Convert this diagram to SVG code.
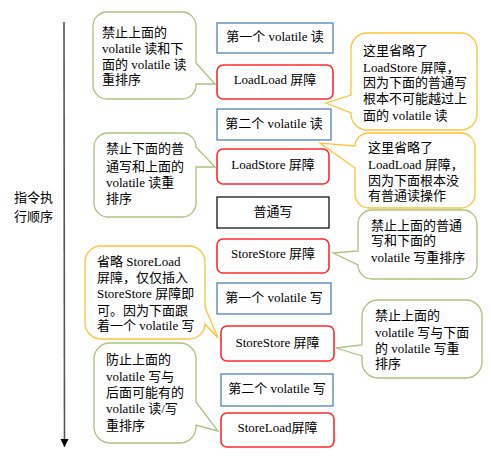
<svg xmlns="http://www.w3.org/2000/svg" width="491" height="465" viewBox="0 0 491 465">
<defs>
<marker id="ah" markerWidth="10" markerHeight="10" refX="8" refY="5" orient="auto" markerUnits="userSpaceOnUse" viewBox="0 0 10 10">
<path d="M0,1 L8,5 L0,9 Z" fill="#000"/>
</marker>
</defs>
<style>
text{font-family:"Liberation Serif","Noto Sans CJK SC",serif;font-size:13px;fill:#000}
.lbl{font-family:"Noto Sans CJK SC","Liberation Sans",sans-serif}
.c{text-anchor:middle}
.blue{fill:#fff;stroke:#4f81bd;stroke-width:1.3}
.red{fill:#fff;stroke:#ff2a2a;stroke-width:1.6}
.blk{fill:#fff;stroke:#000;stroke-width:1.2}
.green{fill:#fff;stroke:#a8c47c;stroke-width:1.3}
.yellow{fill:#fff;stroke:#fdc43a;stroke-width:1.3}
</style>
<rect width="491" height="465" fill="#fff"/>
<g id="connectors">
<line x1="64" y1="22" x2="64.5" y2="447" stroke="#555" stroke-width="1.6" marker-end="url(#ah)"/>
</g>
<g id="order-label">
<text class="lbl" x="14" y="202">指令执</text>
<text class="lbl" x="14" y="221">行顺序</text>
</g>
<g id="n1"><rect class="blue" x="217" y="23" width="116" height="30"/><text class="c" x="275" y="41">第一个 volatile 读</text></g>
<g id="n2"><rect class="red" x="217" y="65" width="116" height="34" rx="6"/><text class="c" x="275" y="84">LoadLoad 屏障</text></g>
<g id="n3"><rect class="blue" x="217" y="109" width="114" height="31"/><text class="c" x="274" y="128">第二个 volatile 读</text></g>
<g id="n4"><rect class="red" x="217" y="149" width="112" height="35" rx="6"/><text class="c" x="273" y="169">LoadStore 屏障</text></g>
<g id="n5"><rect class="blk" x="217" y="197" width="112" height="31"/><text class="c" x="273" y="216">普通写</text></g>
<g id="n6"><rect class="red" x="217" y="239" width="112" height="34" rx="6"/><text class="c" x="273" y="258">StoreStore 屏障</text></g>
<g id="n7"><rect class="blue" x="217" y="283" width="114" height="31"/><text class="c" x="274" y="302">第一个 volatile 写</text></g>
<g id="n8"><rect class="red" x="221" y="326" width="113" height="35" rx="6"/><text class="c" x="277.5" y="346.5">StoreStore 屏障</text></g>
<g id="n9"><rect class="blue" x="221" y="374" width="112" height="32"/><text class="c" x="277" y="392.5">第二个 volatile 写</text></g>
<g id="n10"><rect class="red" x="221" y="413" width="113" height="34" rx="6"/><text class="c" x="277.5" y="431.5">StoreLoad屏障</text></g>

<g id="callout-a">
<path class="green" d="M107,12 H182 A14,14 0 0 1 196,26 V63 L215,84 L196,84 V85 A14,14 0 0 1 182,99 H107 A14,14 0 0 1 93,85 V26 A14,14 0 0 1 107,12 Z"/>
<text x="102" y="37">禁止上面的</text>
<text x="102" y="53">volatile 读和下</text>
<text x="102" y="68.5">面的 volatile 读</text>
<text x="102" y="84">重排序</text>
</g>
<g id="callout-b">
<path class="yellow" d="M367,33 H461 A16,16 0 0 1 477,49 V114 A16,16 0 0 1 461,130 H367 A16,16 0 0 1 351,114 V113 L326,103 L351,95 V49 A16,16 0 0 1 367,33 Z"/>
<text x="363" y="55">这里省略了</text>
<text x="363" y="71.5">LoadStore 屏障，</text>
<text x="363" y="87">因为下面的普通写</text>
<text x="363" y="103">根本不可能越过上</text>
<text x="363" y="119.5">面的 volatile 读</text>
</g>
<g id="callout-c">
<path class="yellow" d="M369,133 H461 A14,14 0 0 1 475,147 V194 A14,14 0 0 1 461,208 H369 A14,14 0 0 1 355,194 V168 L320,143 L355,146 A14,13 0 0 1 369,133 Z"/>
<text x="368" y="151.5">这里省略了</text>
<text x="368" y="168.5">LoadLoad 屏障，</text>
<text x="368" y="185">因为下面根本没</text>
<text x="368" y="200">有普通读操作</text>
</g>
<g id="callout-d">
<path class="green" d="M108,133 H182 A14,14 0 0 1 196,147 L215,167 L196,167 V203 A14,14 0 0 1 182,217 H108 A14,14 0 0 1 94,203 V147 A14,14 0 0 1 108,133 Z"/>
<text x="106" y="153">禁止下面的普</text>
<text x="106" y="170.5">通写和上面的</text>
<text x="106" y="187">volatile 读重</text>
<text x="106" y="203">排序</text>
</g>
<g id="callout-e">
<path class="green" d="M372,210 H463 A14,14 0 0 1 477,224 V265 A14,14 0 0 1 463,279 H372 A14,14 0 0 1 358,265 L333,253 L358,251 V224 A14,14 0 0 1 372,210 Z"/>
<text x="371" y="230">禁止上面的普通</text>
<text x="371" y="245">写和下面的</text>
<text x="371" y="262">volatile 写重排序</text>
</g>
<g id="callout-f">
<path class="yellow" d="M101,246 H189 A16,16 0 0 1 205,262 V307 L218,338 L205,324 A16,15 0 0 1 189,339 H101 A16,16 0 0 1 85,323 V262 A16,16 0 0 1 101,246 Z"/>
<text x="97" y="265.5">省略 StoreLoad</text>
<text x="97" y="281.5">屏障，仅仅插入</text>
<text x="97" y="298">StoreStore 屏障即</text>
<text x="97" y="314.5">可。因为下面跟</text>
<text x="97" y="330">着一个 volatile 写</text>
</g>
<g id="callout-g">
<path class="green" d="M110,343 H180 A16,16 0 0 1 196,359 V402 L218,431 L196,425 V427 A16,16 0 0 1 180,443 H110 A16,16 0 0 1 94,427 V359 A16,16 0 0 1 110,343 Z"/>
<text x="106" y="364">防止上面的</text>
<text x="106" y="381">volatile 写与</text>
<text x="106" y="396.5">后面可能有的</text>
<text x="106" y="413">volatile 读/写</text>
<text x="106" y="429.5">重排序</text>
</g>
<g id="callout-h">
<path class="green" d="M378,300 H466 A16,16 0 0 1 482,316 V362 A16,16 0 0 1 466,378 H378 A16,16 0 0 1 362,362 V356 L336,348 L362,345 V316 A16,16 0 0 1 378,300 Z"/>
<text x="375" y="320">禁止上面的</text>
<text x="375" y="336.5">volatile 写与下面</text>
<text x="375" y="353">的 volatile 写重</text>
<text x="375" y="368">排序</text>
</g>
</svg>
